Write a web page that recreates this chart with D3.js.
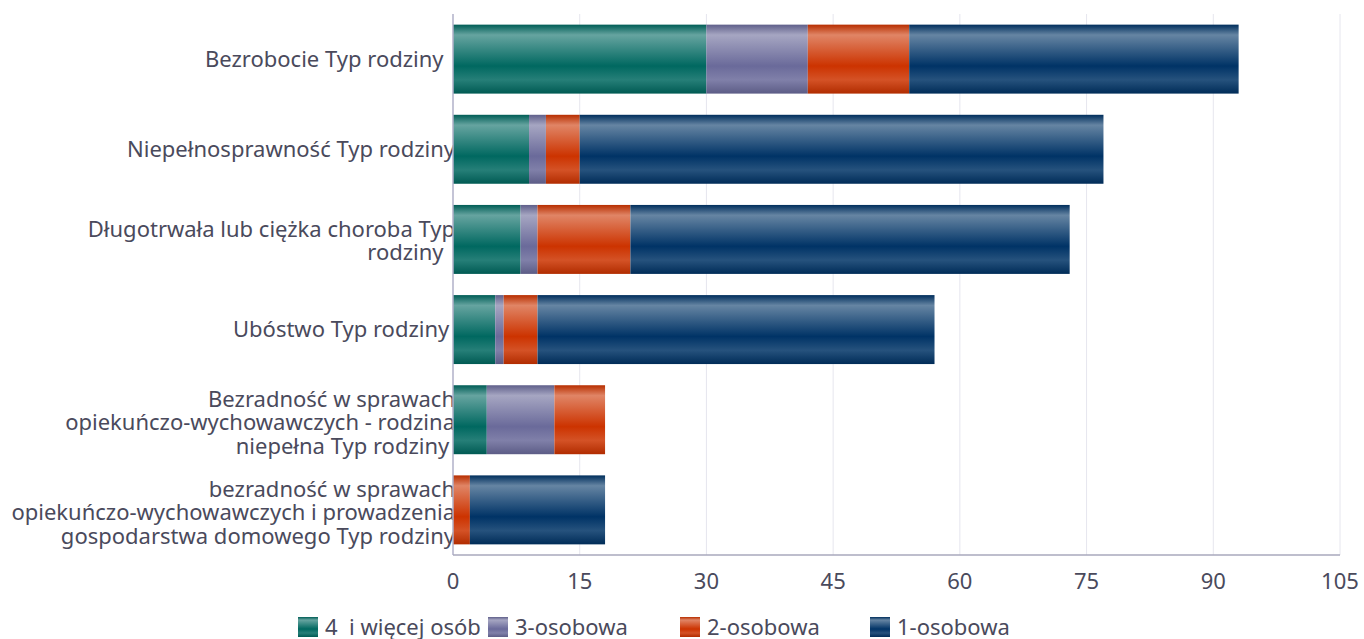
<!DOCTYPE html>
<html>
<head>
<meta charset="utf-8">
<script src="https://cdn.jsdelivr.net/npm/d3@7"></script>
<style>
body { margin: 0; background: #fff; }
text { font-family: "Noto Sans", "Open Sans", sans-serif; white-space: pre; }
</style>
</head>
<body>
<svg id="chart" width="1364" height="639"></svg>
<script>
var categories = [
  ["Bezrobocie Typ rodziny  "],
  ["Niepełnosprawność Typ rodziny"],
  ["Długotrwała lub ciężka choroba Typ", "rodziny  "],
  ["Ubóstwo Typ rodziny "],
  ["Bezradność w sprawach", "opiekuńczo-wychowawczych - rodzina", "niepełna Typ rodziny "],
  ["bezradność w sprawach", "opiekuńczo-wychowawczych i prowadzenia", "gospodarstwa domowego Typ rodziny"]
];
var seriesNames = ["4  i więcej osób", "3-osobowa", "2-osobowa", "1-osobowa"];
var seriesColors = ["#006860", "#6a6a9a", "#cc3300", "#003366"];
var fourPlus = [30, 9, 8, 5, 4, 0];
var threePers = [12, 2, 2, 1, 8, 0];
var twoPers = [12, 4, 11, 4, 6, 2];
var onePers = [39, 62, 52, 47, 0, 16];
var xTicks = [0, 15, 30, 45, 60, 75, 90, 105];

var values = [fourPlus, threePers, twoPers, onePers];
var rows = categories.map(function(c, i) {
  var r = {i: i};
  seriesNames.forEach(function(s, k) { r[s] = values[k][i]; });
  return r;
});
var stacked = d3.stack().keys(seriesNames)(rows);

var svg = d3.select("#chart");
var plotL = 453, plotR = 1340, plotT = 14, plotB = 555;

var x = d3.scaleLinear().domain([0, 105]).range([plotL, plotR]);
var y = d3.scaleBand().domain(d3.range(categories.length)).range([plotT, plotB]).paddingInner(0.235).paddingOuter(0.118);

var defs = svg.append("defs");
seriesColors.forEach(function(c, k) {
  var base = d3.color(c);
  var g = defs.append("linearGradient").attr("id", "grad" + k)
    .attr("x1", 0).attr("y1", 0).attr("x2", 0).attr("y2", 1);
  var stops = [
    [0, base.darker(0.3)],
    [0.15, d3.interpolateRgb(c, "#fff")(0.4)],
    [0.6, base],
    [0.8, d3.interpolateRgb(c, "#fff")(0.15)],
    [1, base.darker(0.4)]
  ];
  stops.forEach(function(s) {
    g.append("stop").attr("offset", s[0]).attr("stop-color", s[1].toString());
  });
});

// grid
svg.append("g").selectAll("line").data(xTicks.slice(1)).enter().append("line")
  .attr("x1", d => x(d)).attr("x2", d => x(d))
  .attr("y1", plotT).attr("y2", plotB)
  .attr("stroke", "#e6e6ee").attr("stroke-width", 1);

// category labels (drawn under the bars, they overflow a little)
var lineH = 23.5;
categories.forEach(function(lines, i) {
  var n = lines.length;
  var cy = y(i) + y.bandwidth() / 2 + 7.5 + 1.5 * (n - 1);
  var t = svg.append("text").attr("text-anchor", "end")
    .attr("font-size", 22).attr("fill", "#4a4a5c");
  lines.forEach(function(l, j) {
    t.append("tspan").attr("x", 455)
      .attr("y", cy + (j - (n - 1) / 2) * lineH)
      .text(l);
  });
});

// bars
svg.append("g").selectAll("g").data(stacked).enter().append("g")
  .attr("fill", (d, k) => "url(#grad" + k + ")")
  .selectAll("rect").data(d => d).enter().append("rect")
  .attr("x", d => x(d[0]))
  .attr("y", (d, i) => y(i))
  .attr("width", d => x(d[1]) - x(d[0]))
  .attr("height", y.bandwidth());

// axes lines
svg.append("line").attr("x1", plotL).attr("x2", plotL).attr("y1", plotT).attr("y2", plotB)
  .attr("stroke", "#b0b0c8").attr("stroke-width", 1.5);
svg.append("line").attr("x1", plotL).attr("x2", plotR).attr("y1", plotB).attr("y2", plotB)
  .attr("stroke", "#a8a8bc").attr("stroke-width", 1.5);

// x tick labels
svg.append("g").selectAll("text").data(xTicks).enter().append("text")
  .attr("x", d => x(d)).attr("y", 589)
  .attr("text-anchor", "middle")
  .attr("font-size", 22).attr("fill", "#4a4a5c")
  .text(d => d);

// legend
var legendX = [298, 488, 680, 870];
var leg = svg.append("g").selectAll("g").data(seriesNames).enter().append("g")
  .attr("transform", (d, k) => "translate(" + legendX[k] + ",617)");
leg.append("rect").attr("width", 20).attr("height", 20)
  .attr("fill", (d, k) => "url(#grad" + k + ")");
leg.append("text").attr("x", 27).attr("y", 18)
  .attr("font-size", 22).attr("fill", "#4a4a5c")
  .text(d => d);
</script>
</body>
</html>
